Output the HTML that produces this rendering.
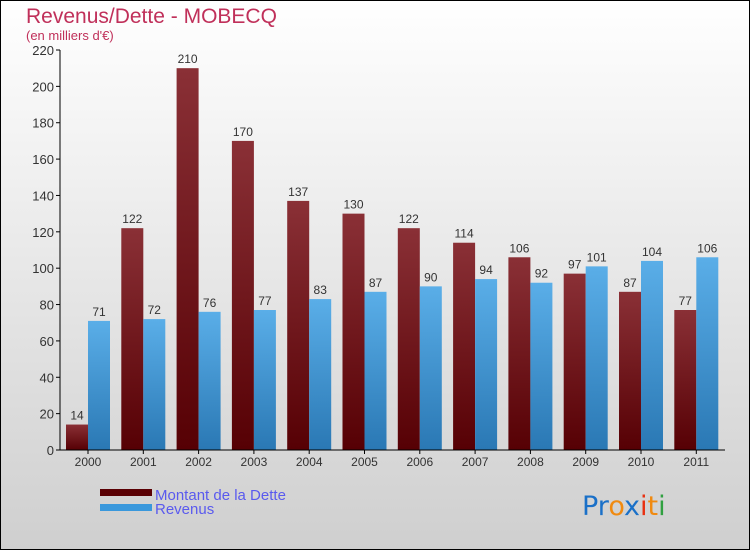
<!DOCTYPE html>
<html><head><meta charset="utf-8"><style>
body{margin:0}
#c{width:750px;height:550px;position:relative;font-family:"Liberation Sans",sans-serif}
</style></head><body>
<div id="c">
<svg id="s" width="750" height="550" xmlns="http://www.w3.org/2000/svg">
<defs>
<linearGradient id="bg" x1="0" y1="0" x2="0" y2="1"><stop offset="0" stop-color="#ffffff"/><stop offset="1" stop-color="#cfcfcf"/></linearGradient>
<linearGradient id="gd" x1="0" y1="0" x2="0" y2="1"><stop offset="0" stop-color="#8a3036"/><stop offset="1" stop-color="#560004"/></linearGradient>
<linearGradient id="gr" x1="0" y1="0" x2="0" y2="1"><stop offset="0" stop-color="#5aaee8"/><stop offset="1" stop-color="#2a78b4"/></linearGradient>
</defs>
<rect x="0.5" y="0.5" width="749" height="549" fill="url(#bg)" stroke="#000"/>
<text x="26" y="23" font-size="21" fill="#c0305a">Revenus/Dette - MOBECQ</text>
<text x="26" y="40" font-size="13" fill="#c0305a">(en milliers d'€)</text>
<g id="plot"></g>
<rect x="100" y="489" width="52" height="7" fill="#5a0004"/>
<rect x="100" y="504" width="52" height="7" fill="#3a98dc"/>
<text x="155" y="500" font-size="15" fill="#5a5aee">Montant de la Dette</text>
<text x="155" y="514" font-size="15" fill="#5a5aee">Revenus</text>
<text x="582" y="515" font-size="27" font-family="'DejaVu Sans',sans-serif"><tspan fill="#1a70c8">Pr</tspan><tspan fill="#f08a10">o</tspan><tspan fill="#1a70c8">x</tspan><tspan fill="#e83010">i</tspan><tspan fill="#f08a10">t</tspan><tspan fill="#30a040">i</tspan></text>
</svg>
</div>
<script>
const years=["2000","2001","2002","2003","2004","2005","2006","2007","2008","2009","2010","2011"];
const dette=[14,122,210,170,137,130,122,114,106,97,87,77];
const revenus=[71,72,76,77,83,87,90,94,92,101,104,106];
const ticks=[0,20,40,60,80,100,120,140,160,180,200,220];
const NS="http://www.w3.org/2000/svg";
const g=document.getElementById('plot');
const y=v=>450-v*400/220;
const gx=i=>60+i*55.3;
function mk(t,a){const e=document.createElementNS(NS,t);for(const k in a)e.setAttribute(k,a[k]);g.appendChild(e);return e;}
ticks.forEach(t=>{
  const l=mk('line',{x1:56,x2:60,y1:y(t),y2:y(t),stroke:'#000'});
  
  
  const tx=mk('text',{x:54,y:y(t)+5,'text-anchor':'end','font-size':13,fill:'#333'});
  tx.textContent=t;
  
  
});
years.forEach((yr,i)=>{
  const x0=gx(i)+6;
  const b1=mk('rect',{x:x0,y:y(dette[i]),width:22,height:450-y(dette[i]),fill:'url(#gd)'});
  
  
  const b2=mk('rect',{x:x0+22,y:y(revenus[i]),width:22,height:450-y(revenus[i]),fill:'url(#gr)'});
  
  
  const l1=mk('text',{x:x0+11,y:y(dette[i])-5,'text-anchor':'middle','font-size':12,fill:'#333'});
  l1.textContent=dette[i];
  
  
  const l2=mk('text',{x:x0+33,y:y(revenus[i])-5,'text-anchor':'middle','font-size':12,fill:'#333'});
  l2.textContent=revenus[i];
  
  
  const tk=mk('line',{x1:x0+22,x2:x0+22,y1:450,y2:454,stroke:'#000'});
  
  
  const xl=mk('text',{x:x0+22,y:466,'text-anchor':'middle','font-size':12,fill:'#333'});
  xl.textContent=yr;
  
  
});
const ax=mk('line',{x1:60,x2:60,y1:y(220),y2:450,stroke:'#000'});


const bx=mk('line',{x1:60,x2:725,y1:450,y2:450,stroke:'#000'});


</script>
</body></html>
